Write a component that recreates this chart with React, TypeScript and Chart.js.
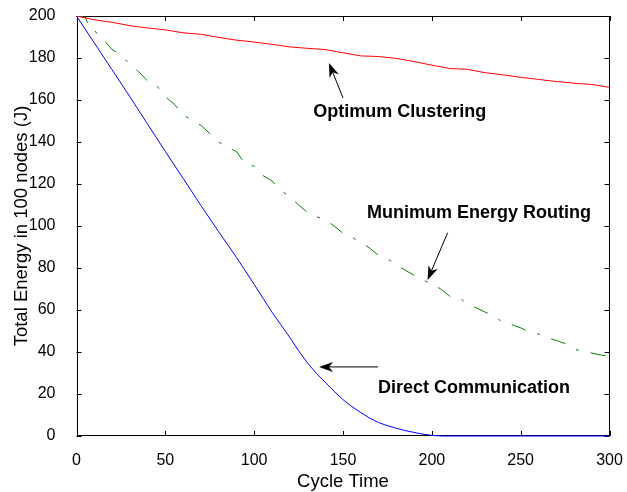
import React, { useEffect, useRef } from "react";
import { Chart, registerables } from "chart.js";

Chart.register(...registerables);

// ---- data ----
const clusteringCycles = [0, 10, 20, 30, 40, 50, 60, 70, 80, 90, 100, 110, 120, 130, 140, 150, 160, 170, 180, 190, 200, 210, 220, 230, 240, 250, 260, 270, 280, 290, 300];
const clusteringEnergy = [200, 198.2, 197, 195.4, 194.3, 193.4, 192, 191.3, 189.8, 188.5, 187.6, 186.5, 185.3, 184.6, 184, 182.5, 181, 180.7, 179.8, 178.3, 176.6, 175, 174.6, 173, 172, 170.8, 169.8, 168.8, 168, 167.4, 166];

const routingCycles = [0, 5, 7, 10, 12, 15, 20, 25, 30, 35, 40, 45, 50, 55, 60, 65, 70, 75, 80, 85, 90, 95, 100, 105, 110, 115, 120, 125, 130, 135, 140, 145, 150, 155, 160, 165, 170, 175, 180, 185, 190, 195, 200, 205, 210, 215, 220, 225, 230, 235, 240, 245, 250, 255, 260, 265, 270, 275, 280, 285, 290, 295, 300];
const routingEnergy = [200, 199.5, 195, 193.5, 191, 189, 184, 181.5, 177, 173.5, 169, 167, 161.5, 158, 153, 150.3, 148, 144, 140, 137.5, 135.5, 129.5, 128.5, 124, 121.5, 117, 114, 110, 106.5, 104.5, 103, 100, 96.5, 94.7, 92, 89.5, 86, 84.5, 81.5, 79, 76.5, 74.3, 72.5, 70, 66.6, 66.2, 62.8, 61, 59, 57.2, 54, 53, 51.5, 49.5, 48.5, 46.8, 45.5, 44, 41.5, 40.2, 39.5, 38.6, 38];

const directCycles = [0, 10, 20, 30, 40, 50, 60, 70, 80, 90, 100, 105, 110, 115, 120, 125, 130, 135, 140, 145, 150, 155, 160, 165, 170, 175, 180, 185, 190, 195, 200, 205, 210, 220, 230, 240, 250, 260, 270, 280, 290, 300];
const directEnergy = [200, 187.2, 174.4, 161.6, 148.5, 135.5, 122.7, 109.8, 97.3, 85.1, 72.2, 65.6, 59, 53, 47, 40.6, 34.8, 29.8, 25.6, 21.3, 17.3, 14, 11.2, 8.5, 6.4, 4.9, 3.7, 2.6, 1.7, 0.9, 0.3, 0, 0, 0, 0, 0, 0, 0, 0, 0, 0, 0];

const xTicks = [0, 50, 100, 150, 200, 250, 300];
const yTicks = [0, 20, 40, 60, 80, 100, 120, 140, 160, 180, 200];

// annotations: label text, label centre (data units), arrow start and tip (data units)
const annotationLabels = ["Optimum Clustering", "Munimum Energy Routing", "Direct Communication"];
const annotationLabelPos = [[182, 154.4], [226.5, 106.2], [223.7, 22.9]];
const annotationArrowFrom = [[150, 161], [208.9, 96.8], [169.7, 32.9]];
const annotationArrowTo = [[142.1, 177.6], [197.6, 74.3], [136.5, 32.9]];

const FONT = "'Liberation Sans', Arial, Helvetica, sans-serif";

function toXY(xs: number[], ys: number[]) {
  return xs.map((x, i) => ({ x, y: ys[i] }));
}

function drawArrow(ctx: CanvasRenderingContext2D, x1: number, y1: number, x2: number, y2: number) {
  const ang = Math.atan2(y2 - y1, x2 - x1);
  const c = Math.cos(ang), s = Math.sin(ang);
  const L = 14, W = 5, N = 10;
  ctx.beginPath();
  ctx.moveTo(x1, y1);
  ctx.lineTo(x2 - N * c, y2 - N * s);
  ctx.stroke();
  ctx.beginPath();
  ctx.moveTo(x2, y2);
  ctx.lineTo(x2 - L * c - W * s, y2 - L * s + W * c);
  ctx.lineTo(x2 - N * c, y2 - N * s);
  ctx.lineTo(x2 - L * c + W * s, y2 - L * s - W * c);
  ctx.closePath();
  ctx.fill();
}

function zeroPadding(scale: any) {
  scale.paddingTop = 0;
  scale.paddingBottom = 0;
  scale.paddingLeft = 0;
  scale.paddingRight = 0;
}

const framePlugin = {
  id: "frame",
  beforeDatasetsDraw(chart: any) {
    const { ctx, chartArea } = chart;
    const { left, right, top, bottom } = chartArea;
    const xs = chart.scales.x, ys = chart.scales.y;
    ctx.save();
    ctx.strokeStyle = "#000";
    ctx.lineWidth = 1;
    ctx.strokeRect(Math.round(left) + 0.5, Math.round(top) + 0.5, Math.round(right - left) - 1, Math.round(bottom - top) - 1);
    ctx.beginPath();
    const t = 5;
    xTicks.forEach((v) => {
      const px = Math.round(xs.getPixelForValue(v)) + 0.5;
      ctx.moveTo(px, bottom);
      ctx.lineTo(px, bottom - t);
      ctx.moveTo(px, top);
      ctx.lineTo(px, top + t);
    });
    yTicks.forEach((v) => {
      const py = Math.round(ys.getPixelForValue(v)) + 0.5;
      ctx.moveTo(left, py);
      ctx.lineTo(left + t, py);
      ctx.moveTo(right, py);
      ctx.lineTo(right - t, py);
    });
    ctx.stroke();
    ctx.restore();
  },
  afterDraw(chart: any) {
    const { ctx } = chart;
    const xs = chart.scales.x, ys = chart.scales.y;
    ctx.save();
    ctx.fillStyle = "#000";
    ctx.strokeStyle = "#000";
    ctx.lineWidth = 1;
    ctx.font = `bold 18px ${FONT}`;
    ctx.textAlign = "center";
    ctx.textBaseline = "middle";
    annotationLabels.forEach((txt, i) => {
      const [lx, ly] = annotationLabelPos[i];
      ctx.fillText(txt, xs.getPixelForValue(lx), ys.getPixelForValue(ly));
      const [ax, ay] = annotationArrowFrom[i];
      const [bx, by] = annotationArrowTo[i];
      drawArrow(ctx, xs.getPixelForValue(ax), ys.getPixelForValue(ay), xs.getPixelForValue(bx), ys.getPixelForValue(by));
    });
    ctx.restore();
  },
};

export default function App() {
  const ref = useRef<HTMLCanvasElement | null>(null);
  useEffect(() => {
    if (!ref.current) return;
    Chart.defaults.font.family = FONT;
    Chart.defaults.color = "#000";
    const chart = new Chart(ref.current, {
      type: "line",
      data: {
        datasets: [
          {
            label: "Optimum Clustering",
            data: toXY(clusteringCycles, clusteringEnergy),
            borderColor: "#ff0000",
            borderWidth: 1,
            pointRadius: 0,
            tension: 0,
            fill: false,
          },
          {
            label: "Munimum Energy Routing",
            data: toXY(routingCycles, routingEnergy),
            borderColor: "#008000",
            borderWidth: 1,
            borderDash: [15, 12, 3, 12],
            pointRadius: 0,
            tension: 0,
            fill: false,
          },
          {
            label: "Direct Communication",
            data: toXY(directCycles, directEnergy),
            borderColor: "#0000ff",
            borderWidth: 1,
            pointRadius: 0,
            tension: 0,
            fill: false,
            clip: 2,
          },
        ],
      },
      options: {
        responsive: false,
        animation: false,
        events: [],
        layout: { padding: { top: 16, right: 17.5, left: 0, bottom: 0 } },
        plugins: {
          legend: { display: false },
          tooltip: { enabled: false },
        },
        scales: {
          x: {
            type: "linear",
            min: 0,
            max: 300,
            grid: { display: false },
            border: { display: false },
            ticks: {
              stepSize: 50,
              padding: 7,
              color: "#000",
              font: { size: 16 },
              maxRotation: 0,
            },
            title: {
              display: true,
              text: "Cycle Time",
              color: "#000",
              font: { size: 18.5, lineHeight: 1 },
              padding: { top: 0, bottom: 0.75 },
            },
            afterFit(scale: any) {
              scale.height = 56;
              zeroPadding(scale);
            },
          },
          y: {
            type: "linear",
            min: 0,
            max: 200,
            grid: { display: false },
            border: { display: false },
            ticks: {
              stepSize: 20,
              padding: 13,
              color: "#000",
              font: { size: 16 },
            },
            title: {
              display: true,
              text: "Total Energy in 100 nodes (J)",
              color: "#000",
              font: { size: 18.5, lineHeight: 1 },
              padding: { top: 12.75, bottom: 0 },
            },
            afterFit(scale: any) {
              scale.width = 76.5;
              zeroPadding(scale);
            },
          },
        },
      },
      plugins: [framePlugin],
    } as any);
    return () => chart.destroy();
  }, []);
  return (
    <div style={{ position: "absolute", left: 0, top: 0, width: 627, height: 492, background: "#fff" }}>
      <canvas ref={ref} width={627} height={492} style={{ display: "block" }} />
    </div>
  );
}
